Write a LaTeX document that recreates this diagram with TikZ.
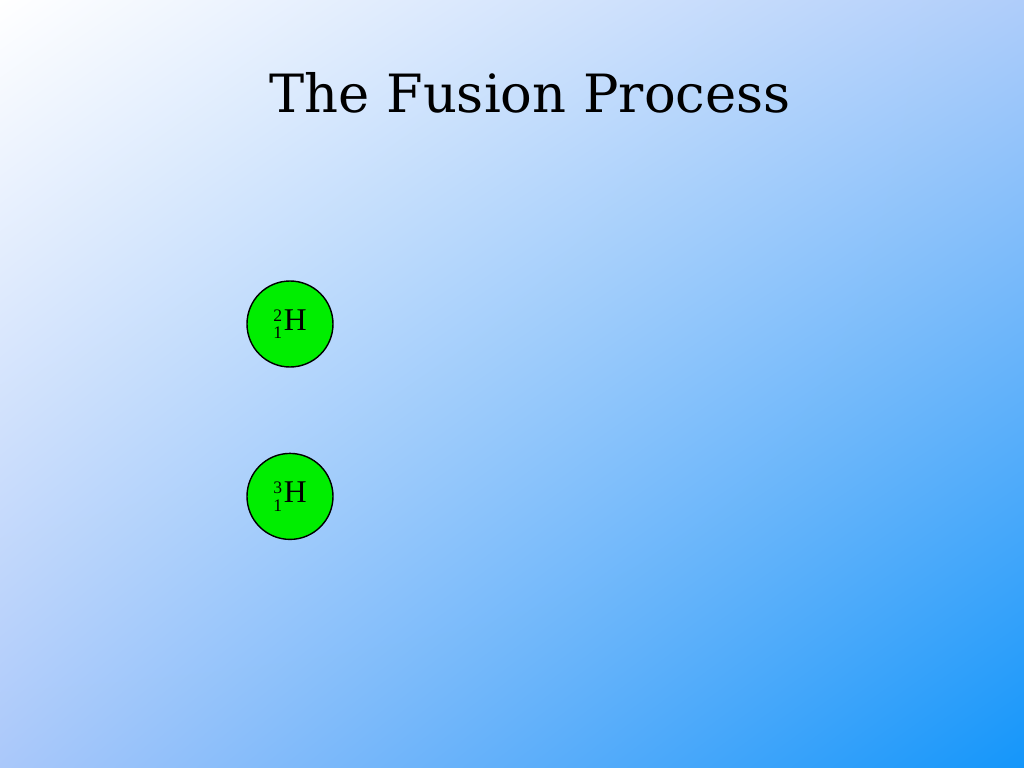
\documentclass[tikz,border=0pt]{standalone}
\usepackage{fontspec}
\setmainfont{Liberation Serif}
\newfontfamily\titlefont{DejaVu Serif}
\usetikzlibrary{positioning,shadings}
\definecolor{bgtr}{RGB}{175,205,250}
\definecolor{bgbl}{RGB}{170,200,250}
\definecolor{bgbr}{RGB}{20,150,250}
\definecolor{nucgreen}{RGB}{0,238,0}
\tikzset{
  nucleus/.style={circle, draw=black, fill=nucgreen, minimum size=0.86cm, inner sep=0pt,
    font=\fontsize{9}{10}\selectfont}
}
\begin{document}
\begin{tikzpicture}

    % background
    \shade[upper left=white, upper right=bgtr, lower left=bgbl, lower right=bgbr]
      (0,0) rectangle (10.24,-7.68);
    \useasboundingbox (0,0) rectangle (10.24,-7.68);

    % title
    \node[font=\titlefont\fontsize{15}{18}\selectfont] (title) at (5.3,-0.93) {The Fusion Process};

    % nuclei
    \node[nucleus] (deut) at (2.9,-3.24) {$\scriptstyle{}^{\mathrm{2}}_{\mathrm{1}}$H};
    \node[nucleus, below=0.85cm of deut] (trit) {$\scriptstyle{}^{\mathrm{3}}_{\mathrm{1}}$H};

\end{tikzpicture}
\end{document}
